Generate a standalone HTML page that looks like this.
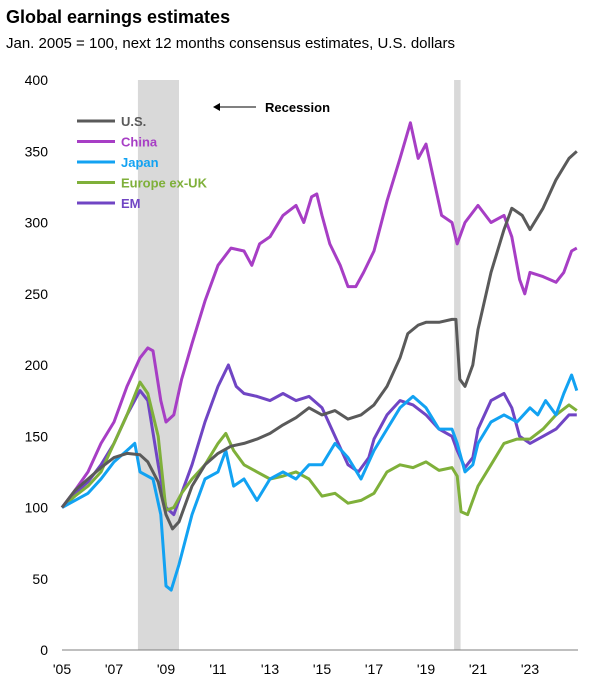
<!DOCTYPE html>
<html><head><meta charset="utf-8"><style>
body{margin:0;background:#fff;font-family:"Liberation Sans",Arial,sans-serif}
svg text{font-family:"Liberation Sans",Arial,sans-serif}
</style></head><body>
<svg id="chart" width="605" height="689">
<text x="6" y="23" font-size="18" font-weight="bold" fill="#000">Global earnings estimates</text>
<text x="6" y="48" font-size="15" fill="#000">Jan. 2005 = 100, next 12 months consensus estimates, U.S. dollars</text>
<g id="shade"></g><g id="axes"></g><g id="lines"></g><g id="legend"></g>
</svg>
<script>
const yTicks=[0,50,100,150,200,250,300,350,400];
const xTickYears=[2005,2007,2009,2011,2013,2015,2017,2019,2021,2023];
const xTickLabels=["'05","'07","'09","'11","'13","'15","'17","'19","'21","'23"];
const recessions=[[2007.92,2009.5],[2020.08,2020.33]];
const seriesNames=["U.S.","China","Japan","Europe ex-UK","EM"];
const seriesColors=["#5a5a5a","#a73ec5","#12a2f2","#7fb03a","#7045c4"];
const usT=[2005,2005.5,2006,2006.5,2007,2007.5,2008,2008.3,2008.7,2009,2009.25,2009.5,2010,2010.5,2011,2011.5,2012,2012.5,2013,2013.5,2014,2014.5,2015,2015.5,2016,2016.5,2017,2017.5,2018,2018.3,2018.7,2019,2019.5,2020,2020.15,2020.3,2020.5,2020.8,2021,2021.5,2022,2022.3,2022.7,2023,2023.5,2024,2024.5,2024.8];
const usV=[100,112,120,128,135,138,137,132,118,95,85,90,115,130,138,143,145,148,152,158,163,170,165,168,162,165,172,185,205,222,228,230,230,232,232,190,185,200,225,265,295,310,305,295,310,330,345,350];
const chinaT=[2005,2005.5,2006,2006.5,2007,2007.5,2008,2008.3,2008.5,2008.8,2009,2009.3,2009.6,2010,2010.5,2011,2011.5,2012,2012.3,2012.6,2013,2013.5,2014,2014.3,2014.6,2014.8,2015,2015.3,2015.7,2016,2016.3,2016.6,2017,2017.5,2018,2018.4,2018.7,2019,2019.3,2019.6,2020,2020.2,2020.5,2021,2021.5,2022,2022.3,2022.6,2022.8,2023,2023.5,2024,2024.3,2024.6,2024.8];
const chinaV=[100,112,125,145,160,185,205,212,210,175,160,165,190,215,245,270,282,280,270,285,290,305,312,300,318,320,305,285,270,255,255,265,280,315,345,370,345,355,330,305,300,285,300,312,300,305,290,260,250,265,262,258,265,280,282];
const japanT=[2005,2005.5,2006,2006.5,2007,2007.5,2007.8,2008,2008.5,2008.8,2009,2009.2,2009.5,2010,2010.5,2011,2011.3,2011.6,2012,2012.5,2013,2013.5,2014,2014.5,2015,2015.5,2016,2016.5,2017,2017.5,2018,2018.5,2019,2019.5,2020,2020.2,2020.5,2020.8,2021,2021.5,2022,2022.5,2023,2023.3,2023.6,2024,2024.3,2024.6,2024.8];
const japanV=[100,105,110,120,132,140,145,125,120,95,45,42,60,95,120,125,140,115,120,105,120,125,120,130,130,145,135,120,140,155,170,178,170,155,155,145,125,130,145,160,165,160,170,165,175,165,180,193,182];
const euT=[2005,2005.5,2006,2006.5,2007,2007.5,2008,2008.3,2008.7,2009,2009.3,2009.6,2010,2010.5,2011,2011.3,2011.6,2012,2012.5,2013,2013.5,2014,2014.5,2015,2015.5,2016,2016.5,2017,2017.5,2018,2018.5,2019,2019.5,2020,2020.2,2020.35,2020.6,2021,2021.5,2022,2022.5,2023,2023.5,2024,2024.5,2024.8];
const euV=[100,108,115,125,145,165,188,180,150,98,100,110,120,130,145,152,140,130,125,120,122,125,120,108,110,103,105,110,125,130,128,132,126,128,122,97,95,115,130,145,148,148,155,165,172,168];
const emT=[2005,2005.5,2006,2006.5,2007,2007.5,2008,2008.3,2008.7,2009,2009.3,2009.6,2010,2010.5,2011,2011.4,2011.7,2012,2012.5,2013,2013.5,2014,2014.5,2015,2015.5,2016,2016.4,2016.8,2017,2017.5,2018,2018.5,2019,2019.5,2020,2020.2,2020.5,2020.8,2021,2021.5,2022,2022.3,2022.6,2023,2023.5,2024,2024.5,2024.8];
const emV=[100,110,118,130,145,165,182,175,130,100,95,110,130,160,185,200,185,180,178,175,180,175,178,170,150,130,125,135,148,165,175,172,165,155,150,140,128,135,155,175,180,170,150,145,150,155,165,165];
const allT=[usT,chinaT,japanT,euT,emT], allV=[usV,chinaV,japanV,euV,emV];
const X=t=>62+(t-2005)*26, Y=v=>650-v*1.425;
const NS="http://www.w3.org/2000/svg";
function mk(tag,attrs,parent){const e=document.createElementNS(NS,tag);for(const k in attrs)e.setAttribute(k,attrs[k]);parent.appendChild(e);return e;}
const shade=document.getElementById('shade'),axes=document.getElementById('axes'),lines=document.getElementById('lines'),legend=document.getElementById('legend');
recessions.forEach(r=>{const e=mk('rect',{x:X(r[0]),y:Y(400),width:X(r[1])-X(r[0]),height:Y(0)-Y(400),fill:'#d9d9d9'},shade);

});
yTicks.forEach(v=>{const t=mk('text',{x:48,y:Y(v)+5,'font-size':14,'text-anchor':'end',fill:'#000'},axes);t.textContent=v;

});
const ax=mk('line',{x1:62,x2:578,y1:Y(0),y2:Y(0),stroke:'#7f7f7f','stroke-width':1},axes);


xTickYears.forEach((yr,i)=>{const t=mk('text',{x:X(yr),y:674,'font-size':14,'text-anchor':'middle',fill:'#000'},axes);t.textContent=xTickLabels[i];

});
[0,1,2,3,4].reverse().forEach(i=>{const d=allT[i].map((t,j)=>(j?'L':'M')+X(t).toFixed(1)+','+Y(allV[i][j]).toFixed(1)).join('');
const p=mk('path',{d:d,fill:'none',stroke:seriesColors[i],'stroke-width':3,'stroke-linejoin':'round'},lines);

});
seriesNames.forEach((n,i)=>{const y=121+i*20.5;
const l=mk('line',{x1:77,x2:115,y1:y,y2:y,stroke:seriesColors[i],'stroke-width':3},legend);


const t=mk('text',{x:121,y:y+5,'font-size':13,'font-weight':'bold',fill:seriesColors[i]},legend);t.textContent=n;

});
const ar=mk('line',{x1:256,x2:216,y1:107,y2:107,stroke:'#000','stroke-width':1},legend);


const ah=mk('path',{d:'M213,107 L220,103 L220,111 Z',fill:'#000'},legend);


const rt=mk('text',{x:265,y:112,'font-size':13,'font-weight':'bold',fill:'#000'},legend);rt.textContent='Recession';


</script>
</body></html>
